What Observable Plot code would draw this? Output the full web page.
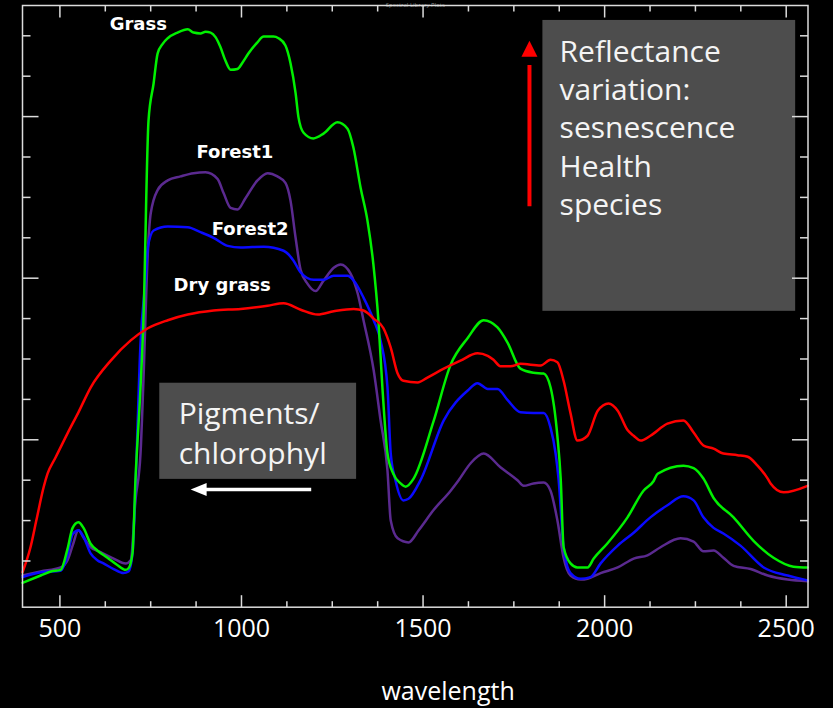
<!DOCTYPE html>
<html>
<head>
<meta charset="utf-8">
<script src="https://cdn.jsdelivr.net/npm/d3@7"></script>
<script src="https://cdn.jsdelivr.net/npm/@observablehq/plot@0.6"></script>
<style>
  html, body { margin: 0; padding: 0; background: #000; }
  #chart { width: 833px; height: 708px; overflow: hidden; }
</style>
</head>
<body>
<div id="chart"></div>
<script>
// Spectral reflectance (%) against wavelength (nm) for four vegetation types.
const seriesNames = ["Forest1", "Forest2", "Grass", "Dry grass"];
const seriesColors = ["#5b2a90", "#0a0aff", "#00f000", "#ff0000"];

const grass = [
  [397, 2.3], [447, 3.2], [475, 3.7], [502, 3.9], [521, 6.5], [535, 9.1], [551, 9.8], [565, 9.1],
  [585, 7.1], [603, 6.3], [631, 5.4], [658, 4.5], [681, 3.9], [689, 4.1], [700, 6.0], [708, 15.0],
  [722, 26.5], [730, 34.8], [744, 59.5], [758, 64.1], [769, 67.8], [783, 69.0], [797, 69.7],
  [824, 70.4], [852, 70.8], [868, 70.4], [887, 70.3], [901, 70.5], [915, 70.4], [929, 69.8],
  [942, 68.6], [956, 66.9], [970, 65.8], [989, 65.9], [1003, 66.7], [1019, 67.8], [1044, 69.2],
  [1061, 69.9], [1088, 69.9], [1102, 69.7], [1121, 68.8], [1135, 66.6], [1149, 62.9], [1157, 59.9],
  [1171, 58.0], [1198, 57.3], [1226, 57.9], [1264, 59.3], [1292, 58.5], [1308, 56.2], [1328, 51.2],
  [1347, 47.1], [1363, 41.8], [1377, 34.8], [1388, 26.5], [1402, 18.3], [1418, 15.8], [1438, 14.6],
  [1452, 14.2], [1474, 15.2], [1529, 22.3], [1576, 29.3], [1623, 32.6], [1667, 34.8], [1705, 33.9],
  [1733, 32.0], [1768, 28.8], [1804, 28.3], [1832, 28.2], [1851, 26.5], [1870, 20.4], [1879, 15.2],
  [1887, 6.7], [1906, 4.7], [1925, 4.2], [1953, 4.2], [1970, 5.3], [2008, 7.2], [2063, 10.4],
  [2107, 13.7], [2135, 14.9], [2146, 15.8], [2217, 16.8], [2245, 16.5], [2272, 15.2], [2300, 12.8],
  [2355, 10.4], [2410, 7.5], [2465, 5.4], [2520, 4.3], [2559, 4.2]
];

const forest1 = [
  [397, 3.2], [447, 3.7], [502, 4.2], [521, 5.1], [535, 6.9], [551, 8.8], [565, 7.9], [585, 6.7],
  [612, 6.1], [648, 5.3], [681, 4.7], [695, 5.1], [708, 12.5], [722, 18.3], [730, 27.3], [742, 43.1],
  [750, 48.0], [769, 50.9], [797, 52.1], [832, 52.6], [868, 53.0], [901, 53.1], [934, 52.3],
  [951, 50.5], [970, 48.7], [989, 48.5], [1011, 49.9], [1044, 52.1], [1072, 53.0], [1099, 52.6],
  [1121, 51.8], [1135, 49.6], [1149, 45.0], [1163, 41.0], [1182, 39.3], [1204, 38.4], [1226, 39.7],
  [1254, 41.3], [1273, 41.7], [1300, 40.6], [1320, 38.1], [1336, 34.8], [1364, 28.6], [1383, 22.4],
  [1402, 16.2], [1411, 10.0], [1430, 7.8], [1460, 7.3], [1488, 8.8], [1529, 11.3], [1576, 13.7],
  [1598, 15.0], [1631, 17.1], [1667, 18.3], [1713, 16.6], [1760, 15.0], [1777, 14.3], [1804, 14.6],
  [1832, 14.7], [1851, 13.7], [1870, 10.0], [1887, 5.4], [1906, 3.2], [1934, 2.7], [1953, 2.8],
  [1989, 3.5], [2036, 4.2], [2080, 5.3], [2118, 5.7], [2154, 6.7], [2209, 7.8], [2245, 7.4],
  [2272, 6.2], [2300, 6.3], [2327, 5.4], [2355, 4.4], [2402, 4.0], [2449, 3.2], [2504, 2.7], [2559, 2.5]
];

const forest2 = [
  [397, 3.0], [447, 3.6], [502, 3.8], [521, 5.7], [535, 8.3], [551, 8.8], [565, 8.0], [585, 5.9],
  [603, 5.1], [620, 4.7], [648, 4.0], [675, 3.5], [689, 3.7], [700, 6.0], [708, 14.0], [722, 32.0],
  [736, 40.0], [742, 43.8], [758, 45.9], [797, 46.4], [852, 46.3], [887, 45.7], [923, 45.0],
  [962, 44.0], [998, 43.8], [1061, 43.9], [1116, 43.4], [1143, 42.2], [1163, 40.7], [1199, 39.8],
  [1226, 39.8], [1254, 40.3], [1292, 40.3], [1309, 39.7], [1336, 37.6], [1364, 34.8], [1383, 32.3],
  [1402, 26.5], [1411, 18.3], [1424, 15.0], [1446, 12.5], [1460, 12.7], [1493, 15.0], [1557, 22.4],
  [1623, 26.1], [1650, 27.0], [1678, 26.3], [1705, 26.3], [1733, 24.9], [1768, 23.4], [1804, 23.3],
  [1832, 23.3], [1851, 21.5], [1865, 18.3], [1873, 15.2], [1887, 6.7], [1906, 3.5], [1934, 2.8],
  [1961, 3.0], [1989, 4.7], [2036, 6.9], [2080, 8.5], [2126, 10.4], [2173, 11.9], [2217, 13.0],
  [2245, 12.5], [2272, 10.4], [2300, 9.1], [2327, 8.4], [2374, 6.9], [2438, 4.2], [2504, 3.2], [2559, 2.6]
];

const dryGrass = [
  [397, 3.6], [419, 6.7], [435, 10.0], [455, 14.1], [466, 15.8], [488, 17.8], [521, 20.8], [551, 23.4],
  [585, 26.5], [640, 29.8], [695, 32.3],
  [742, 33.8], [797, 34.8], [852, 35.5], [923, 36.0], [998, 36.2], [1072, 36.6], [1116, 36.9],
  [1163, 36.1], [1210, 35.5], [1254, 35.9], [1309, 36.2], [1336, 36.0], [1364, 35.0], [1391, 33.8],
  [1411, 31.4], [1430, 28.2], [1446, 27.3], [1485, 27.1], [1512, 27.7], [1557, 28.8], [1603, 29.8],
  [1650, 30.7], [1678, 30.4], [1694, 29.9], [1713, 29.1], [1741, 29.1], [1768, 29.4], [1824, 29.2],
  [1851, 29.9], [1870, 29.6], [1887, 27.3], [1906, 23.3], [1925, 19.9], [1953, 20.5], [1981, 23.6],
  [2011, 24.5], [2036, 23.6], [2063, 21.2], [2080, 20.5], [2099, 19.9], [2126, 20.5], [2173, 22.0],
  [2217, 22.4], [2245, 20.9], [2272, 19.3], [2300, 18.9], [2327, 18.3], [2366, 18.1], [2394, 17.9],
  [2421, 16.8], [2449, 15.2], [2457, 14.6], [2493, 13.5], [2559, 14.3]
];

// Curve labels (text, wavelength, reflectance)
const labelText = ["Grass", "Forest1", "Forest2", "Dry grass"];
const labelWavelength = [637, 876, 918, 813];
const labelReflectance = [71.4, 55.6, 46.0, 39.1];

// Axis ticks
const xMajorTicks = [500, 1000, 1500, 2000, 2500];
const xMinorTicks = [625, 750, 875, 1125, 1250, 1375, 1625, 1750, 1875, 2125, 2250, 2375];
const yMajorTicks = [20, 40, 60];
const yMinorTicks = [5, 10, 15, 25, 30, 35, 45, 50, 55, 65, 70];

// Annotation boxes: [wavelength from, wavelength to, reflectance from, reflectance to]
const noteBoxes = [[1830, 2526, 35.9, 71.9], [775, 1317, 15.1, 27.0]];
const noteText = ["Reflectance\nvariation:\nsesnescence\nHealth\nspecies", "Pigments/\nchlorophyl"];
const noteAt = [[1876, 70.2], [827, 25.5]];
const noteLineHeight = [1.283, 1.33];

// Arrows: [tail wavelength, tail reflectance, tip wavelength, tip reflectance]
const pigmentArrow = [1192, 13.85, 860, 13.85];
const variationArrow = [1793, 48.9, 1793, 69.4];

const table = [
  ["Forest1", forest1], ["Forest2", forest2], ["Grass", grass], ["Dry grass", dryGrass]
].flatMap(([name, pts]) => pts.map(([w, r]) => ({series: name, wavelength: w, reflectance: r})));

const labels = labelText.map((t, i) => ({text: t, x: labelWavelength[i], y: labelReflectance[i]}));
const boxes = noteBoxes.map(([x1, x2, y1, y2]) => ({x1, x2, y1, y2}));
const notes = noteText.map((t, i) => ({text: t, x: noteAt[i][0], y: noteAt[i][1]}));

const tickShape = {draw(ctx, l) { ctx.moveTo(0, 0); ctx.lineTo(0, -l); }};
const headShape = (w) => ({draw(ctx, l) { ctx.moveTo(0, 0); ctx.lineTo(-w / 2, l); ctx.lineTo(w / 2, l); ctx.closePath(); }});

const frameColor = "#dcdcdc";
const tickMarks = (ticks, axis, anchor, rotate, length) =>
  Plot.vector(ticks, {[axis]: (d) => d, frameAnchor: anchor, anchor: "start", rotate, length,
    shape: tickShape, stroke: frameColor, strokeWidth: 1.5, strokeLinecap: "butt"});

const chart = Plot.plot({
  width: 833,
  height: 708,
  marginLeft: 22,
  marginRight: 25.5,
  marginTop: 5,
  marginBottom: 101.3,
  style: {background: "#000", color: "#fff", fontFamily: "'Open Sans', sans-serif", fontSize: "25px"},
  x: {domain: [397, 2560]},
  y: {domain: [-0.72, 73.75], axis: null},
  color: {domain: seriesNames, range: seriesColors},
  marks: [
    Plot.text(["Spectral Library Plots"], {frameAnchor: "top", dy: -2.5, fontSize: 6, fill: "#8a8a8a"}),
    Plot.rect(boxes, {x1: "x1", x2: "x2", y1: "y1", y2: "y2", fill: "#4d4d4d"}),
    Plot.text(notes.slice(0, 1), {x: "x", y: "y", text: "text", textAnchor: "start", lineAnchor: "top",
      lineHeight: noteLineHeight[0], fontSize: 30, fill: "#f4f4f4"}),
    Plot.text(notes.slice(1), {x: "x", y: "y", text: "text", textAnchor: "start", lineAnchor: "top",
      lineHeight: noteLineHeight[1], fontSize: 30, fill: "#f4f4f4"}),
    Plot.line(table, {x: "wavelength", y: "reflectance", z: "series", stroke: "series", strokeWidth: 2.5,
      strokeLinejoin: "round", curve: "monotone-x"}),
    Plot.text(labels, {x: "x", y: "y", text: "text", textAnchor: "start", lineAnchor: "middle",
      fontFamily: "'DejaVu Sans', sans-serif", fontWeight: "bold", fontSize: 18, fill: "#fff"}),
    // white arrow pointing toward the visible wavelengths
    Plot.link([pigmentArrow], {x1: (d) => d[0], y1: (d) => d[1], x2: (d) => d[2] + 30, y2: (d) => d[3],
      stroke: "#fff", strokeWidth: 3.5}),
    Plot.vector([pigmentArrow], {x: (d) => d[2], y: (d) => d[3], anchor: "start", rotate: -90, length: 16,
      shape: headShape(13), fill: "#fff", stroke: "none"}),
    // red arrow pointing upward
    Plot.link([variationArrow], {x1: (d) => d[0], y1: (d) => d[1], x2: (d) => d[2], y2: (d) => d[3] - 3,
      stroke: "#ff0000", strokeWidth: 4}),
    Plot.vector([variationArrow], {x: (d) => d[2], y: (d) => d[3], anchor: "start", rotate: 0, length: 16,
      shape: headShape(16), fill: "#ff0000", stroke: "none"}),
    Plot.frame({stroke: frameColor, strokeWidth: 1.5}),
    tickMarks(xMajorTicks, "x", "bottom", 0, 12),
    tickMarks(xMinorTicks, "x", "bottom", 0, 6),
    tickMarks(xMajorTicks, "x", "top", 180, 12),
    tickMarks(xMinorTicks, "x", "top", 180, 6),
    tickMarks(yMajorTicks, "y", "left", 90, 16),
    tickMarks(yMinorTicks, "y", "left", 90, 8),
    tickMarks(yMajorTicks, "y", "right", -90, 16),
    tickMarks(yMinorTicks, "y", "right", -90, 8),
    Plot.axisX(xMajorTicks, {anchor: "bottom", tickSize: 0, tickPadding: 12.5, fontSize: 25,
      tickFormat: (d) => String(d), fill: "#fff", label: null}),
    Plot.text([{text: "wavelength", x: 1569}], {x: "x", text: "text", frameAnchor: "bottom", dy: 85,
      lineAnchor: "middle", fontSize: 25, fill: "#fff"})
  ]
});

document.getElementById("chart").appendChild(chart);
</script>
</body>
</html>
